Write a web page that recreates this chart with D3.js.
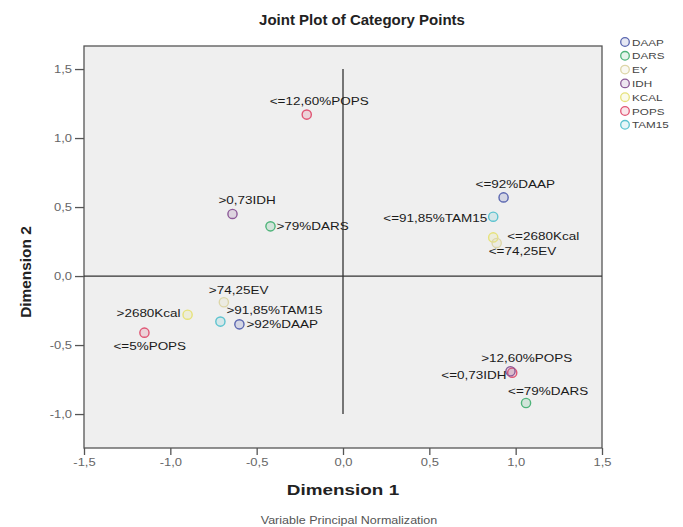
<!DOCTYPE html>
<html>
<head>
<meta charset="utf-8">
<script src="https://cdn.jsdelivr.net/npm/d3@7"></script>
<style>
  html, body { margin: 0; padding: 0; background: #ffffff; }
  svg { display: block; font-family: Arial, "Liberation Sans", sans-serif; }
</style>
</head>
<body>
<svg id="chart" width="683" height="527"></svg>
<script>
// Category labels and their variables
const categories = [
  "<=12,60%POPS", ">0,73IDH", ">79%DARS",
  "<=92%DAAP", "<=91,85%TAM15", "<=2680Kcal", "<=74,25EV",
  ">74,25EV", ">2680Kcal", ">91,85%TAM15", ">92%DAAP", "<=5%POPS",
  ">12,60%POPS", "<=0,73IDH", "<=79%DARS"
];
const variables = [
  "POPS", "IDH", "DARS",
  "DAAP", "TAM15", "KCAL", "EY",
  "EY", "KCAL", "TAM15", "DAAP", "POPS",
  "POPS", "IDH", "DARS"
];
// Category point coordinates
const dim1 = [
  -0.21, -0.64, -0.42,
   0.93,  0.87,  0.87,  0.89,
  -0.69, -0.90, -0.71, -0.60, -1.15,
   0.98,  0.97,  1.06
];
const dim2 = [
   1.17,  0.45,  0.36,
   0.57,  0.43,  0.28,  0.24,
  -0.19, -0.28, -0.33, -0.35, -0.41,
  -0.70, -0.69, -0.92
];
// Legend entries
const legendNames = ["DAAP", "DARS", "EY", "IDH", "KCAL", "POPS", "TAM15"];
// Axis ticks
const xTicks = [-1.5, -1.0, -0.5, 0.0, 0.5, 1.0, 1.5];
const yTicks = [-1.0, -0.5, 0.0, 0.5, 1.0, 1.5];

const palette = {
  DAAP: "#5a66b0", DARS: "#4fb47a", EY: "#ddd6a8", IDH: "#8c5a98",
  KCAL: "#e6e27a", POPS: "#e05574", TAM15: "#5cc3cf"
};

// Label offsets relative to each point (dx, dy, anchor)
const labelPlacement = [
  [-37, -10, "start"], [-14, -10, "start"], [6, 4, "start"],
  [-28, -9, "start"], [-6, 5, "end"], [14, 3, "start"], [-8, 12, "start"],
  [-15, -8, "start"], [-7, 2, "end"], [6, -8, "start"], [7, 4, "start"], [-31, 17, "start"],
  [-31, -11, "start"], [-4, 8, "end"], [-18, -8, "start"]
];

const svg = d3.select("#chart");
const plot = { left: 84, right: 602, top: 46, bottom: 448 };

const x = d3.scaleLinear().domain([-1.5, 1.5]).range([plot.left, plot.right]);
const y = d3.scaleLinear().domain([-1.246, 1.667]).range([plot.bottom, plot.top]);
// decimal comma and a plain hyphen for negatives
const comma = d => d3.format(".1f")(d).replace(".", ",").replace("\u2212", "-");

// horizontally widen text around its anchor point
function widen(sel, k) {
  sel.each(function () {
    const t = d3.select(this);
    const tx = +t.attr("x") || 0, ty = +t.attr("y") || 0;
    t.attr("x", 0).attr("y", 0)
     .attr("transform", `translate(${tx},${ty}) scale(${k},1)`);
  });
}

// Title
svg.append("text")
  .attr("x", 362).attr("y", 25)
  .attr("text-anchor", "middle")
  .attr("font-size", 15).attr("font-weight", "bold").attr("fill", "#222")
  .text("Joint Plot of Category Points");

// Plot frame
svg.append("rect")
  .attr("x", plot.left).attr("y", plot.top)
  .attr("width", plot.right - plot.left).attr("height", plot.bottom - plot.top)
  .attr("fill", "#efefef").attr("stroke", "#555").attr("stroke-width", 1.3);

// Axes
const gy = svg.append("g").attr("transform", `translate(${plot.left},0)`)
  .call(d3.axisLeft(y).tickValues(yTicks).tickFormat(comma).tickSize(9).tickPadding(3));
const gx = svg.append("g").attr("transform", `translate(0,${plot.bottom})`)
  .call(d3.axisBottom(x).tickValues(xTicks).tickFormat(comma).tickSize(7).tickPadding(4));
[gx, gy].forEach(g => {
  g.select(".domain").remove();
  g.selectAll(".tick line").attr("stroke", "#555").attr("stroke-width", 1.3);
  g.selectAll(".tick text").attr("font-size", 10).attr("fill", "#666")
    .attr("font-family", "Arial, 'Liberation Sans', sans-serif");
});
gy.selectAll(".tick text").attr("dy", "0.35em").call(widen, 1.3);
gx.selectAll(".tick text").attr("dy", "0.71em").call(widen, 1.3);

// Reference lines through the origin
svg.append("line")
  .attr("x1", x(0)).attr("x2", x(0)).attr("y1", y(1.5)).attr("y2", y(-1.0))
  .attr("stroke", "#333").attr("stroke-width", 1.3);
svg.append("line")
  .attr("x1", plot.left).attr("x2", plot.right).attr("y1", y(0)).attr("y2", y(0))
  .attr("stroke", "#333").attr("stroke-width", 1.3);

// Axis titles
svg.append("text")
  .attr("x", x(0)).attr("y", 495)
  .attr("font-size", 14).attr("font-weight", "bold").attr("fill", "#222")
  .attr("text-anchor", "middle").text("Dimension 1")
  .call(widen, 1.35);
svg.append("text")
  .attr("transform", `translate(31,${y(0) - 4}) rotate(-90) scale(1.1,1)`)
  .attr("font-size", 14).attr("font-weight", "bold").attr("fill", "#222")
  .attr("text-anchor", "middle").text("Dimension 2");
svg.append("text")
  .attr("x", 349).attr("y", 524)
  .attr("font-size", 11).attr("fill", "#555")
  .attr("text-anchor", "middle").text("Variable Principal Normalization")
  .call(widen, 1.14);

// Category points
const pts = categories.map((c, i) => ({
  label: c, variable: variables[i], d1: dim1[i], d2: dim2[i], place: labelPlacement[i]
}));

svg.append("g").selectAll("circle").data(pts).join("circle")
  .attr("cx", d => x(d.d1)).attr("cy", d => y(d.d2)).attr("r", 4.6)
  .attr("fill", d => palette[d.variable]).attr("fill-opacity", 0.18)
  .attr("stroke", d => palette[d.variable]).attr("stroke-width", 1.4);

svg.append("g").selectAll("text").data(pts).join("text")
  .attr("x", d => x(d.d1) + d.place[0]).attr("y", d => y(d.d2) + d.place[1])
  .attr("text-anchor", d => d.place[2])
  .attr("font-size", 10).attr("fill", "#1a1a1a")
  .text(d => d.label)
  .call(widen, 1.35);

// Legend
const legend = svg.append("g").selectAll("g").data(legendNames).join("g")
  .attr("transform", (d, i) => `translate(625,${42 + i * 13.8})`);
legend.append("circle").attr("r", 4.3)
  .attr("fill", d => palette[d]).attr("fill-opacity", 0.15)
  .attr("stroke", d => palette[d]).attr("stroke-width", 1.3);
legend.append("text").attr("x", 7).attr("y", 3.5)
  .attr("font-size", 9).attr("fill", "#444").text(d => d)
  .call(widen, 1.3);
</script>
</body>
</html>
